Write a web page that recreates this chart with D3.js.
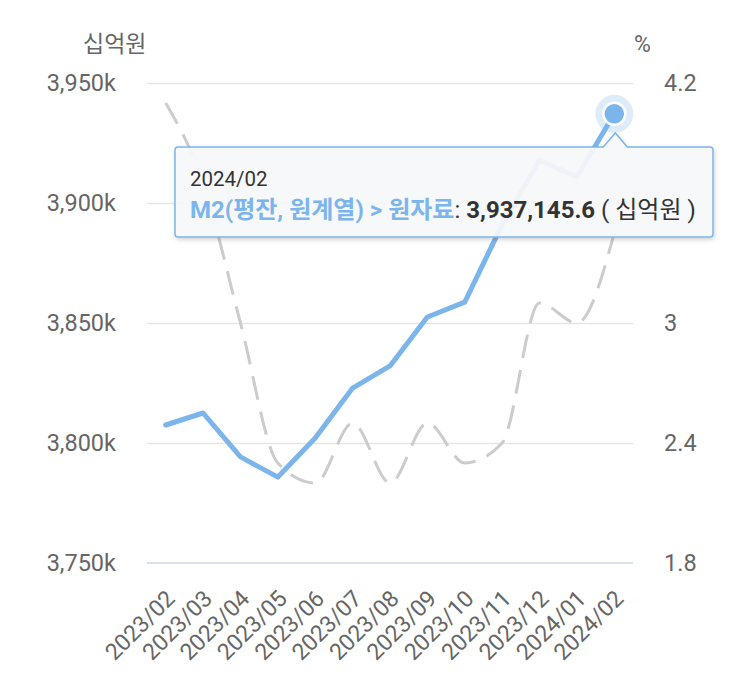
<!DOCTYPE html>
<html>
<head>
<meta charset="utf-8">
<script src="https://cdn.jsdelivr.net/npm/d3@7"></script>
<style>
  html, body { margin: 0; padding: 0; background: #fff; }
  svg { display: block; font-family: Roboto, "Noto Sans CJK KR", sans-serif; }
</style>
</head>
<body>
<svg id="chart" width="743" height="691"></svg>
<script>
// ---- data ----
const months = ["2023/02","2023/03","2023/04","2023/05","2023/06","2023/07","2023/08","2023/09","2023/10","2023/11","2023/12","2024/01","2024/02"];
// M2 (평잔, 원계열) > 원자료, 십억원
const m2Values = [3807500, 3812500, 3794200, 3785800, 3802100, 3822900, 3832100, 3852500, 3858700, 3891000, 3917900, 3910800, 3937145.6];
// 증감률 (%), right axis
const rateValues = [4.1, 3.7, 3.0, 2.3, 2.2, 2.5, 2.2, 2.5, 2.3, 2.4, 3.1, 3.0, 3.45];
const leftTicks = [3750000, 3800000, 3850000, 3900000, 3950000];
// visible right-axis labels (3.6 is hidden behind the tooltip in the reference)
const rightTicks = [1.8, 2.4, 3.0, 4.2];
const leftUnit = "십억원";
const rightUnit = "%";
const tooltipDate = "2024/02";
const tooltipSeries = "M2(평잔, 원계열) > 원자료";
const tooltipValue = "3,937,145.6";
const tooltipUnit = " ( 십억원 )";

// ---- layout ----
const svg = d3.select("#chart");
const plot = { left: 147, right: 633, top: 83, bottom: 563 };
const blue = "#7cb5ec";

const x = d3.scalePoint().domain(months).range([plot.left, plot.right]).padding(0.5);
const yL = d3.scaleLinear().domain([3750000, 3950000]).range([plot.bottom, plot.top]);
const yR = d3.scaleLinear().domain([1.8, 4.2]).range([plot.bottom, plot.top]);

// grid lines
const grid = svg.append("g").attr("transform", `translate(${plot.left},0)`)
  .call(d3.axisLeft(yL).tickValues(leftTicks.slice(1)).tickSize(-(plot.right - plot.left)).tickFormat(""));
grid.select(".domain").remove();
grid.selectAll("line").attr("stroke", "#e6e6e6").attr("stroke-width", 1.5);

// bottom axis line
svg.append("line")
  .attr("x1", plot.left).attr("x2", plot.right)
  .attr("y1", yL(3750000)).attr("y2", yL(3750000))
  .attr("stroke", "#ccd6eb").attr("stroke-width", 1.5);

// left axis labels
const fmtK = v => d3.format(",")(v / 1000) + "k";
const gl = svg.append("g").attr("transform", `translate(116,0)`)
  .call(d3.axisLeft(yL).tickValues(leftTicks).tickSize(0).tickPadding(0).tickFormat(fmtK));
gl.select(".domain").remove();
gl.selectAll("text").attr("fill", "#666").attr("font-size", 23.5).attr("font-family", "Roboto");

// right axis labels
const gr = svg.append("g").attr("transform", `translate(664,0)`)
  .call(d3.axisRight(yR).tickValues(rightTicks).tickSize(0).tickPadding(0).tickFormat(d3.format("~g")));
gr.select(".domain").remove();
gr.selectAll("text").attr("fill", "#666").attr("font-size", 23.5).attr("font-family", "Roboto");

// unit titles
svg.append("text").attr("x", 83).attr("y", 52).attr("fill", "#666").attr("font-size", 23).text(leftUnit);
svg.append("text").attr("x", 634).attr("y", 52).attr("fill", "#666").attr("font-size", 23).text(rightUnit);

// x axis labels (rotated)
const gx = svg.append("g").attr("transform", `translate(0,${plot.bottom})`)
  .call(d3.axisBottom(x).tickSize(0).tickPadding(0));
gx.select(".domain").remove();
gx.selectAll("text")
  .attr("fill", "#666").attr("font-size", 23).attr("font-family", "Roboto")
  .attr("text-anchor", "end")
  .attr("dy", null).attr("y", null)
  .attr("transform", "translate(10,37) rotate(-45)");

// dashed rate line (right axis)
const rateLine = d3.line().x((d, i) => x(months[i])).y(d => yR(d)).curve(d3.curveMonotoneX);
svg.append("path").datum(rateValues)
  .attr("d", rateLine)
  .attr("fill", "none").attr("stroke", "#cccccc").attr("stroke-width", 3)
  .attr("stroke-dasharray", "24,12");

// M2 line (left axis)
const m2Line = d3.line().x((d, i) => x(months[i])).y(d => yL(d));
svg.append("path").datum(m2Values)
  .attr("d", m2Line)
  .attr("fill", "none").attr("stroke", blue).attr("stroke-width", 5)
  .attr("stroke-linejoin", "round").attr("stroke-linecap", "round");

// hover marker at last point
const lx = x(months[months.length - 1]), ly = yL(m2Values[m2Values.length - 1]);
svg.append("circle").attr("cx", lx).attr("cy", ly).attr("r", 19).attr("fill", blue).attr("opacity", 0.25);
svg.append("circle").attr("cx", lx).attr("cy", ly).attr("r", 11).attr("fill", blue).attr("stroke", "#fff").attr("stroke-width", 2.5);

// tooltip
const defs = svg.append("defs");
const f = defs.append("filter").attr("id", "sh").attr("x", "-10%").attr("y", "-20%").attr("width", "120%").attr("height", "150%");
f.append("feDropShadow").attr("dx", 1).attr("dy", 2).attr("stdDeviation", 2).attr("flood-color", "#000").attr("flood-opacity", 0.18);

const tb = { l: 175, t: 147, r: 713, b: 237, rad: 3 };
const nx = lx + 1;
const tp = d3.path();
tp.moveTo(tb.l + tb.rad, tb.t);
tp.lineTo(nx - 12, tb.t);
tp.lineTo(nx, tb.t - 14);
tp.lineTo(nx + 12, tb.t);
tp.lineTo(tb.r - tb.rad, tb.t);
tp.arcTo(tb.r, tb.t, tb.r, tb.t + tb.rad, tb.rad);
tp.lineTo(tb.r, tb.b - tb.rad);
tp.arcTo(tb.r, tb.b, tb.r - tb.rad, tb.b, tb.rad);
tp.lineTo(tb.l + tb.rad, tb.b);
tp.arcTo(tb.l, tb.b, tb.l, tb.b - tb.rad, tb.rad);
tp.lineTo(tb.l, tb.t + tb.rad);
tp.arcTo(tb.l, tb.t, tb.l + tb.rad, tb.t, tb.rad);
tp.closePath();
svg.append("path").attr("d", tp.toString())
  .attr("fill", "rgba(248,249,251,0.93)").attr("stroke", blue).attr("stroke-width", 1.5)
  .attr("filter", "url(#sh)");

svg.append("text").attr("x", 190).attr("y", 186).attr("font-size", 20.5).attr("fill", "#333").text(tooltipDate);
const t2 = svg.append("text").attr("x", 190).attr("y", 218).attr("font-size", 24).attr("fill", "#333");
t2.append("tspan").attr("fill", blue).attr("font-weight", "bold").text(tooltipSeries);
t2.append("tspan").text(": ");
t2.append("tspan").attr("font-weight", "bold").text(tooltipValue);
t2.append("tspan").text(tooltipUnit);
</script>
</body>
</html>
